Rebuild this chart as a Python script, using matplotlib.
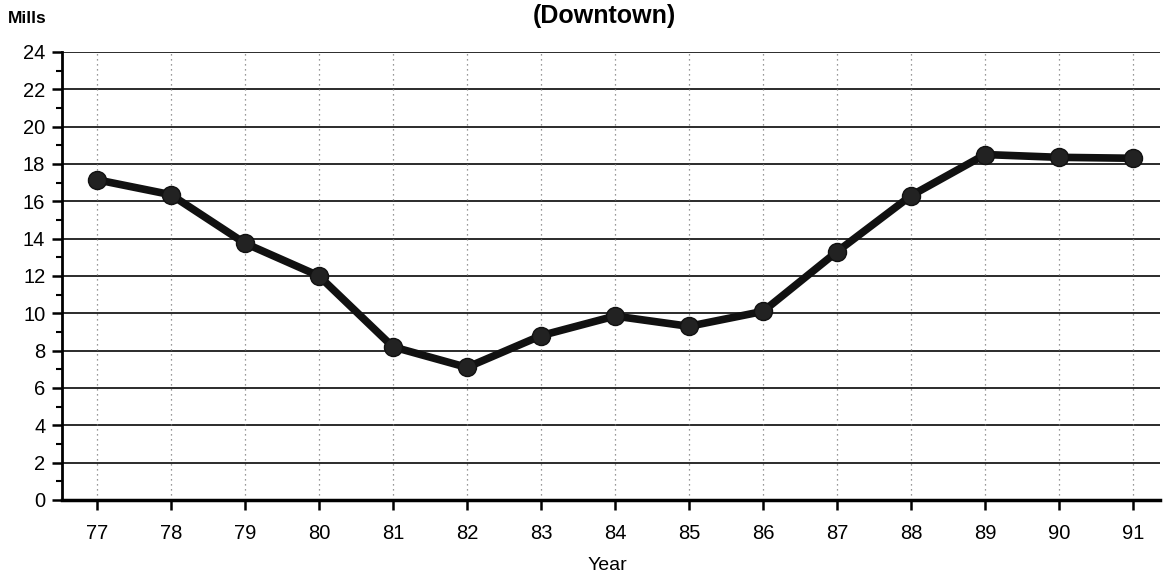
import matplotlib
matplotlib.use("Agg")
import matplotlib.pyplot as plt
from matplotlib.ticker import MultipleLocator

years = [77, 78, 79, 80, 81, 82, 83, 84, 85, 86, 87, 88, 89, 90, 91]
mills = [17.15, 16.35, 13.75, 12.0, 8.2, 7.1, 8.8, 9.85, 9.3, 10.1, 13.3, 16.3, 18.5, 18.35, 18.3]
year_labels = [str(y) for y in years]

plt.rcParams['font.family'] = ['Liberation Sans', 'DejaVu Sans']

fig = plt.figure(figsize=(11.63, 5.76), dpi=100)
ax = fig.add_axes([0.0533, 0.132, 0.944, 0.778])

ax.plot(years, mills, color='#111111', lw=5.5, marker='o', ms=13,
        markerfacecolor='#222222', markeredgecolor='#111111', zorder=5)

ax.set_xlim(76.53, 91.36)
ax.set_ylim(0, 24)
ax.set_xticks(years)
ax.set_xticklabels(year_labels)
ax.yaxis.set_major_locator(MultipleLocator(2))
ax.yaxis.set_minor_locator(MultipleLocator(1))

for y in range(2, 25, 2):
    ax.axhline(y, color='#1a1a1a', lw=1.3, zorder=1)
for x in years:
    ax.axvline(x, color='#777777', lw=0.9, ls=(0, (1, 3)), zorder=1)

for s in ['top', 'right']:
    ax.spines[s].set_visible(False)
ax.spines['left'].set_linewidth(2)
ax.spines['bottom'].set_linewidth(2.5)
ax.tick_params(axis='both', which='major', direction='out', length=7, width=1.8,
               labelsize=14.5, colors='black')
ax.tick_params(axis='y', which='minor', direction='out', length=4, width=1.5)
ax.tick_params(axis='x', pad=10)
ax.tick_params(axis='y', pad=5)

fig.text(0.52, 0.972, '(Downtown)', ha='center', va='center', fontsize=18, fontweight='bold')
fig.text(0.007, 0.968, 'Mills', ha='left', va='center', fontsize=12.5, fontweight='bold')
fig.text(0.522, 0.018, 'Year', ha='center', va='center', fontsize=14)

fig.savefig('out.png', dpi=100)
